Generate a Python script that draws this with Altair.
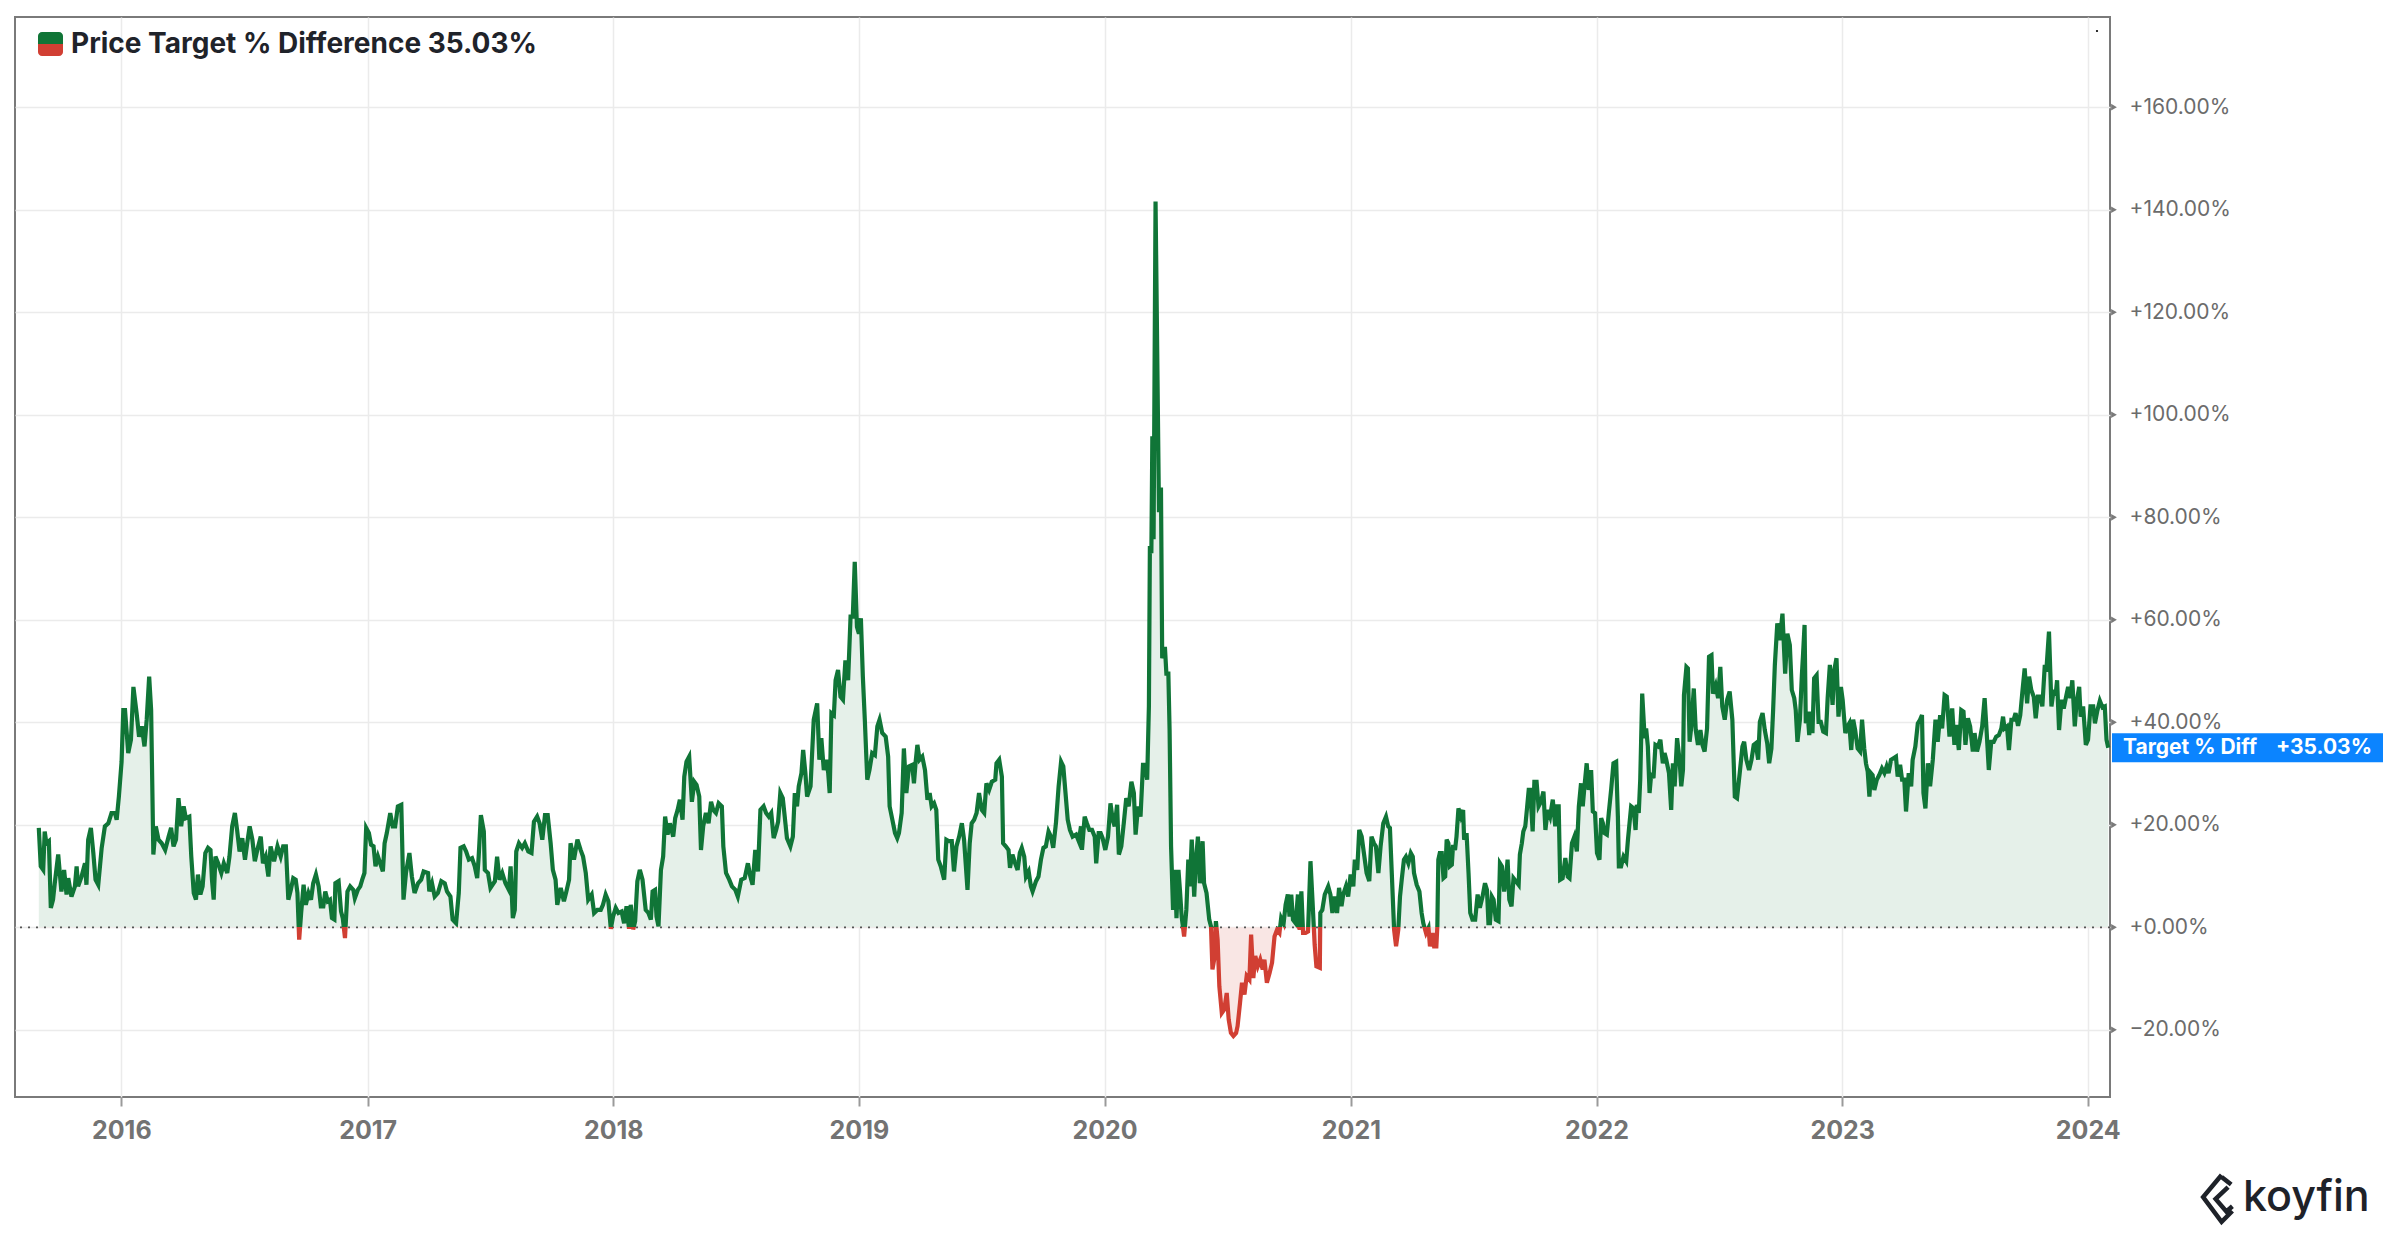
import altair as alt
import pandas as pd

# ---------------- data (decimal year, % difference) ----------------
PTD_2015_2016 = [
(2015.664,19.4),(2015.672,11.9),(2015.682,11.2),(2015.688,18.7),(2015.695,16.4),(2015.705,16.8),(2015.713,3.8),(2015.722,5.4),(2015.729,8.6),(2015.743,14.2),
(2015.756,7.0),(2015.767,11.2),(2015.777,6.4),(2015.784,9.6),(2015.797,6.0),(2015.811,8.0),(2015.818,11.9),(2015.824,8.0),(2015.838,9.9),(2015.852,12.5),
(2015.858,8.3),(2015.865,17.1),(2015.876,19.4),(2015.886,14.5),(2015.895,9.3),(2015.906,8.3),(2015.913,11.9),(2015.920,15.5),(2015.933,19.7),(2015.947,20.3),
(2015.960,22.3),(2015.974,22.3),(2015.981,21.0),(2015.990,25.5),(2016.001,32.3),(2016.008,42.4),(2016.015,42.4),(2016.028,34.0),(2016.039,36.6),(2016.049,46.9),
(2016.062,41.8),(2016.072,37.2),(2016.083,39.2),(2016.094,35.3),(2016.103,40.5),(2016.113,48.9),(2016.121,42.4),(2016.130,14.2),(2016.140,19.7),(2016.151,17.1),
(2016.164,16.4),(2016.178,15.1),(2016.192,17.7),(2016.202,19.4),(2016.212,15.8),(2016.222,17.1),(2016.232,25.2),(2016.243,19.7),(2016.253,23.6),(2016.262,21.3),
(2016.276,21.6),(2016.284,13.8),(2016.294,6.7),(2016.303,5.4),(2016.311,10.3),(2016.321,6.4),(2016.330,8.0),(2016.341,14.5),(2016.352,15.5),(2016.362,15.1),
(2016.368,9.3),(2016.375,5.4),(2016.382,13.8),(2016.393,12.5),(2016.406,10.6),(2016.416,12.5),(2016.430,10.6),(2016.439,13.8),(2016.450,19.7),(2016.461,22.3),
(2016.470,19.0),(2016.480,14.8),(2016.491,17.4),(2016.502,13.2),(2016.511,16.4),(2016.521,19.7),(2016.532,17.1),(2016.542,12.9),(2016.552,15.1),(2016.566,17.7),
(2016.575,12.5),(2016.586,13.8),(2016.597,9.9),(2016.606,15.8),(2016.620,12.9),(2016.634,15.8),(2016.647,13.8),(2016.657,15.8),(2016.668,15.8),(2016.678,5.4),
(2016.688,7.3),(2016.698,9.6),(2016.708,9.3),(2016.715,6.7),(2016.722,-2.4),(2016.730,2.8),(2016.740,8.3),(2016.749,4.4),(2016.760,6.7),(2016.770,5.4),
(2016.779,8.6),(2016.790,10.3),(2016.801,8.0),(2016.810,4.1),(2016.820,4.1),(2016.828,7.0),(2016.838,5.1),(2016.847,5.4),(2016.855,1.8),(2016.865,1.5),
(2016.869,8.6),(2016.882,9.0),(2016.892,3.1),(2016.899,1.8),(2016.908,-2.1),(2016.918,7.0),(2016.929,8.0),(2016.942,7.3),(2016.948,5.7),(2016.960,7.3),
(2016.970,8.0),(2016.978,9.3),(2016.987,10.6),(2016.994,19.4),(2017.005,18.4),(2017.014,16.1),(2017.024,15.8),(2017.032,11.9),(2017.042,13.8),(2017.051,12.5),
(2017.062,10.9),
]

PTD_2017_2018 = [
(2017.069,16.4),(2017.078,18.4),(2017.092,22.3),(2017.102,19.7),(2017.112,19.7),(2017.123,23.6),(2017.137,23.9),(2017.146,5.4),(2017.156,10.6),(2017.170,14.5),
(2017.180,9.9),(2017.191,6.7),(2017.205,8.6),(2017.218,9.3),(2017.228,10.9),(2017.246,10.6),(2017.251,7.0),(2017.262,8.6),(2017.273,6.0),(2017.286,6.7),
(2017.300,9.0),(2017.314,8.6),(2017.323,7.0),(2017.337,6.0),(2017.346,1.5),(2017.360,0.8),(2017.371,6.7),(2017.378,15.5),(2017.391,15.8),(2017.401,14.8),
(2017.412,13.2),(2017.425,13.5),(2017.436,11.9),(2017.446,9.6),(2017.452,13.8),(2017.461,21.9),(2017.473,18.7),(2017.477,11.2),(2017.490,10.6),(2017.500,7.7),
(2017.518,9.0),(2017.527,13.8),(2017.537,9.3),(2017.548,10.6),(2017.561,8.6),(2017.575,7.3),(2017.582,11.9),(2017.591,1.8),(2017.599,3.4),(2017.605,14.8),
(2017.616,16.4),(2017.629,15.5),(2017.640,16.4),(2017.654,14.8),(2017.667,14.5),(2017.677,20.6),(2017.690,21.6),(2017.700,20.3),(2017.711,17.1),(2017.722,21.9),
(2017.733,21.9),(2017.745,16.4),(2017.754,11.2),(2017.765,9.3),(2017.772,4.4),(2017.786,7.7),(2017.799,5.1),(2017.809,7.0),(2017.820,9.3),(2017.826,16.4),
(2017.840,13.2),(2017.854,17.1),(2017.867,15.1),(2017.877,13.8),(2017.888,10.6),(2017.898,5.4),(2017.912,6.4),(2017.922,2.8),(2017.935,3.4),(2017.949,3.4),
(2017.958,4.4),(2017.969,6.4),(2017.980,5.1),(2017.990,-0.3),(2017.999,2.1),(2018.010,3.8),(2018.021,2.8),(2018.034,3.1),(2018.044,0.8),(2018.054,4.1),
(2018.064,-0.3),(2018.071,4.4),(2018.081,-0.4),(2018.089,1.2),(2018.098,9.0),(2018.108,11.2),(2018.119,9.3),(2018.132,3.4),(2018.143,2.8),(2018.153,1.5),
(2018.160,7.0),(2018.170,7.3),(2018.176,2.1),(2018.184,0.2),(2018.194,11.2),(2018.203,13.8),(2018.211,21.6),(2018.221,18.1),(2018.230,20.3),(2018.244,17.7),
(2018.252,21.3),(2018.262,22.9),(2018.271,24.9),(2018.282,21.0),(2018.289,29.4),(2018.298,32.3),(2018.309,33.3),(2018.320,24.5),(2018.330,28.4),(2018.339,27.8),
(2018.350,25.5),(2018.357,15.1),(2018.366,19.7),(2018.377,22.3),(2018.388,20.3),(2018.398,24.5),(2018.407,22.9),(2018.418,22.3),(2018.429,24.2),(2018.442,23.6),
(2018.448,15.8),(2018.459,10.6),(2018.472,9.3),(2018.483,8.0),
]

PTD_2018_2019 = [
(2018.497,7.3),(2018.507,6.0),(2018.521,9.3),(2018.535,9.6),(2018.548,12.5),(2018.558,9.9),(2018.567,8.3),(2018.578,15.1),(2018.589,10.9),(2018.599,22.9),
(2018.612,23.6),(2018.622,22.3),(2018.633,21.6),(2018.643,22.3),(2018.653,17.4),(2018.663,19.0),(2018.671,20.6),(2018.680,26.2),(2018.690,25.2),(2018.698,21.6),
(2018.707,17.4),(2018.721,15.8),(2018.731,17.7),(2018.739,26.2),(2018.748,23.6),(2018.755,27.5),(2018.766,30.1),(2018.773,34.6),(2018.782,30.1),(2018.789,25.5),
(2018.803,27.5),(2018.816,40.5),(2018.830,43.7),(2018.839,32.7),(2018.847,36.9),(2018.857,30.7),(2018.867,32.7),(2018.875,30.1),(2018.881,26.2),(2018.888,41.8),
(2018.898,41.4),(2018.905,48.2),(2018.915,50.2),(2018.925,45.0),(2018.935,44.4),(2018.945,52.1),(2018.956,48.2),(2018.966,60.6),(2018.975,60.6),(2018.983,71.3),
(2018.992,58.6),(2019.000,57.3),(2019.008,60.3),(2019.016,48.9),(2019.024,40.5),(2019.034,28.8),(2019.043,30.7),(2019.054,34.0),(2019.065,33.6),(2019.075,39.2),
(2019.084,40.5),(2019.095,37.9),(2019.109,37.2),(2019.119,33.3),(2019.125,23.6),(2019.136,21.0),(2019.147,18.4),(2019.156,17.4),(2019.163,18.4),(2019.174,22.3),
(2019.183,34.9),(2019.193,26.2),(2019.204,31.4),(2019.217,31.7),(2019.224,28.1),(2019.231,32.3),(2019.238,35.6),(2019.247,32.7),(2019.258,33.3),(2019.269,30.7),
(2019.279,24.9),(2019.288,26.2),(2019.296,23.6),(2019.306,24.2),(2019.315,22.9),(2019.323,13.2),(2019.333,11.9),(2019.347,9.3),(2019.356,17.1),(2019.367,16.8),
(2019.378,16.8),(2019.387,10.9),(2019.397,15.8),(2019.408,17.7),(2019.419,20.3),(2019.428,17.1),(2019.442,7.3),(2019.451,16.4),(2019.459,20.3),(2019.469,21.0),
(2019.479,22.3),(2019.489,26.2),(2019.500,22.9),(2019.510,22.3),(2019.519,28.1),(2019.530,26.8),(2019.541,28.4),(2019.555,28.8),(2019.560,32.0),(2019.571,32.7),
(2019.582,29.4),(2019.587,16.4),(2019.598,15.8),(2019.609,15.1),(2019.615,11.6),(2019.625,14.2),(2019.636,12.5),(2019.646,11.2),(2019.655,14.5),(2019.663,15.5),
(2019.673,13.8),(2019.680,9.9),(2019.691,10.9),(2019.700,8.0),(2019.707,7.0),(2019.721,9.0),(2019.731,9.9),(2019.741,13.2),(2019.751,15.5),(2019.761,15.8),
(2019.772,18.7),(2019.782,17.7),(2019.791,15.5),(2019.802,20.3),(2019.813,27.5),(2019.823,32.3),(2019.832,31.4),(2019.840,26.8),(2019.850,21.0),(2019.859,19.0),
(2019.870,17.7),(2019.884,18.1),(2019.895,16.8),(2019.904,19.7),
]

PTD_2020_2021 = [
(2019.908,15.1),(2019.919,21.6),(2019.928,20.3),(2019.938,19.0),(2019.949,19.0),(2019.960,17.7),(2019.966,12.5),(2019.976,18.4),(2019.984,18.4),(2019.992,17.4),
(2020.003,15.1),(2020.014,17.7),(2020.024,24.2),(2020.033,21.0),(2020.041,19.7),(2020.051,23.9),(2020.058,14.2),(2020.068,15.8),(2020.078,20.3),(2020.088,25.2),
(2020.098,23.6),(2020.109,28.4),(2020.119,26.2),(2020.126,18.1),(2020.136,23.6),(2020.146,21.6),(2020.156,31.7),(2020.164,31.7),(2020.173,28.8),(2020.180,43.1),
(2020.184,74.4),(2020.190,73.0),(2020.194,95.8),(2020.199,75.7),(2020.207,141.6),(2020.221,81.0),(2020.229,85.8),(2020.234,52.5),(2020.245,54.7),(2020.251,49.5),
(2020.259,49.5),(2020.264,38.5),(2020.270,15.8),(2020.278,3.4),(2020.286,11.2),(2020.292,1.8),(2020.300,11.2),(2020.306,7.3),(2020.313,2.1),(2020.323,-1.8),
(2020.332,3.4),(2020.340,13.2),(2020.346,8.0),(2020.354,17.1),(2020.364,6.0),(2020.370,12.5),(2020.379,17.7),(2020.387,8.6),(2020.398,16.8),(2020.404,8.6),
(2020.414,6.7),(2020.425,1.5),(2020.432,0.2),(2020.438,-8.2),(2020.445,-6.3),(2020.452,1.2),(2020.459,-2.4),(2020.466,-11.5),(2020.476,-16.7),(2020.486,-16.0),
(2020.496,-12.8),(2020.504,-18.0),(2020.513,-20.6),(2020.523,-21.2),(2020.534,-20.6),(2020.540,-19.3),(2020.550,-14.7),(2020.558,-10.8),(2020.568,-13.1),(2020.577,-9.5),
(2020.588,-10.2),(2020.595,-1.4),(2020.604,-9.9),(2020.612,-5.6),(2020.622,-7.6),(2020.632,-6.3),(2020.642,-8.2),(2020.649,-6.3),(2020.659,-10.8),(2020.670,-8.9),
(2020.680,-6.9),(2020.690,-1.8),(2020.700,-0.5),(2020.710,-1.1),(2020.717,1.8),(2020.727,0.8),(2020.735,4.4),(2020.744,6.4),(2020.751,2.1),(2020.758,6.4),
(2020.765,1.5),(2020.776,0.8),(2020.785,6.4),(2020.792,-0.5),(2020.799,7.0),(2020.806,-1.1),(2020.816,-1.1),(2020.826,-0.8),(2020.836,12.9),(2020.844,5.4),
(2020.853,-3.4),(2020.860,-7.6),(2020.874,-7.9),(2020.876,2.8),(2020.884,3.4),(2020.894,6.4),(2020.908,8.0),(2020.917,6.4),(2020.925,2.8),(2020.935,6.0),
(2020.944,2.8),(2020.952,7.7),(2020.962,4.1),(2020.969,6.4),(2020.980,8.0),(2020.989,6.0),(2020.999,10.3),(2021.010,8.0),(2021.016,13.2),(2021.026,11.2),
(2021.034,19.0),(2021.044,17.7),(2021.053,14.5),(2021.064,10.6),(2021.075,9.0),(2021.084,17.7),(2021.094,16.4),(2021.102,15.8),(2021.112,10.6),(2021.121,15.8),
(2021.132,20.3),(2021.143,21.6),(2021.152,19.7),(2021.159,19.4),(2021.166,11.2),(2021.176,-0.5),(2021.184,-3.7),(2021.193,-0.5),(2021.200,6.0),(2021.207,9.3),
(2021.216,13.2),(2021.224,13.8),(2021.234,12.5),(2021.244,14.5),(2021.252,13.8),(2021.257,10.6),(2021.268,8.3),(2021.279,7.0),(2021.288,2.8),(2021.295,0.8),
(2021.306,-1.1),(2021.316,-0.1),(2021.322,-3.7),(2021.333,-1.1),
]

PTD_2021_2022 = [
(2021.339,-3.7),(2021.348,-3.7),(2021.352,0.2),(2021.356,13.2),(2021.362,14.5),(2021.370,14.5),(2021.377,9.6),(2021.384,9.9),(2021.390,17.1),(2021.397,16.4),
(2021.403,11.9),(2021.411,12.2),(2021.416,16.1),(2021.424,15.1),(2021.430,17.7),(2021.438,23.2),(2021.448,21.6),(2021.457,22.9),(2021.461,17.1),(2021.471,18.4),
(2021.479,10.6),(2021.486,2.8),(2021.495,1.5),(2021.506,1.5),(2021.516,6.4),(2021.525,3.8),(2021.536,6.0),(2021.546,8.6),(2021.554,7.3),(2021.560,0.8),
(2021.566,0.8),(2021.574,6.0),(2021.581,5.4),(2021.590,1.5),(2021.601,1.2),(2021.607,12.5),(2021.615,11.9),(2021.624,7.0),(2021.631,9.3),(2021.638,13.2),
(2021.645,5.4),(2021.654,4.1),(2021.662,9.6),(2021.672,9.0),(2021.683,8.3),(2021.688,14.2),(2021.696,16.4),(2021.702,18.7),(2021.710,19.7),(2021.717,23.2),
(2021.724,26.8),(2021.730,26.8),(2021.740,18.7),(2021.747,28.4),(2021.756,28.4),(2021.764,23.6),(2021.774,24.5),(2021.784,26.5),(2021.792,19.0),(2021.801,22.9),
(2021.811,21.6),(2021.822,24.9),(2021.832,19.7),(2021.838,23.6),(2021.846,23.6),(2021.852,9.3),(2021.862,9.6),(2021.873,13.5),(2021.883,9.9),(2021.890,9.6),
(2021.900,16.4),(2021.910,17.7),(2021.920,14.8),(2021.928,23.6),(2021.937,28.1),(2021.944,23.6),(2021.951,27.5),(2021.960,32.0),(2021.968,26.8),(2021.978,30.7),
(2021.985,22.6),(2021.994,22.3),(2022.002,14.5),(2022.012,13.2),(2022.019,21.3),(2022.026,20.3),(2022.032,18.4),(2022.042,18.1),(2022.050,22.3),(2022.060,27.1),
(2022.069,32.0),(2022.080,32.3),(2022.087,21.6),(2022.091,11.9),(2022.100,11.9),(2022.110,13.8),(2022.121,12.9),(2022.128,17.1),(2022.141,23.6),(2022.151,23.2),
(2022.159,19.0),(2022.164,23.9),(2022.172,22.3),(2022.178,28.8),(2022.186,45.6),(2022.196,36.9),(2022.202,38.8),(2022.209,35.3),(2022.216,26.2),(2022.223,30.1),
(2022.232,29.1),(2022.240,35.6),(2022.250,35.3),(2022.260,36.6),(2022.270,32.0),(2022.277,34.0),(2022.284,32.7),(2022.295,30.1),(2022.304,22.9),(2022.311,32.0),
(2022.318,27.5),(2022.328,36.9),(2022.338,32.7),(2022.345,27.5),(2022.352,30.7),(2022.356,45.3),(2022.366,50.8),(2022.372,50.5),(2022.379,36.2),(2022.386,39.2),
(2022.396,46.6),(2022.404,38.5),(2022.413,35.6),(2022.423,38.5),(2022.431,35.6),(2022.440,34.3),(2022.450,38.8),(2022.458,52.8),(2022.468,53.1),(2022.474,45.6),
(2022.485,47.2),(2022.495,44.7),(2022.504,50.8),(2022.512,43.1),(2022.522,40.5),(2022.532,44.4),(2022.542,46.0),(2022.553,40.5),(2022.563,25.5),(2022.572,25.2),
(2022.583,30.1),(2022.594,35.3),(2022.601,36.2),(2022.610,32.7),(2022.621,30.7),(2022.631,32.7),(2022.640,35.6),(2022.648,35.9),(2022.658,32.7),(2022.665,40.1),
(2022.676,41.8),(2022.685,38.5),(2022.695,35.9),(2022.703,32.0),(2022.712,34.9),(2022.719,42.4),(2022.726,51.2),(2022.736,59.3),(2022.746,56.0),(2022.757,61.2),
]

PTD_2022_2024 = [
(2022.768,49.5),(2022.777,57.3),(2022.787,55.1),(2022.795,46.3),(2022.805,44.7),(2022.811,42.4),(2022.818,36.2),(2022.828,40.5),(2022.836,49.2),(2022.841,53.4),
(2022.847,59.0),(2022.852,39.8),(2022.859,42.1),(2022.866,37.5),(2022.873,42.1),(2022.879,37.9),(2022.886,48.6),(2022.896,49.2),(2022.904,40.1),(2022.913,40.1),
(2022.923,38.2),(2022.934,37.9),(2022.941,44.7),(2022.950,51.2),(2022.961,43.4),(2022.968,50.2),(2022.977,52.5),(2022.985,41.1),(2022.995,46.9),(2023.002,44.4),
(2023.013,37.9),(2023.022,39.2),(2023.029,39.8),(2023.037,34.6),(2023.045,40.5),(2023.053,38.5),(2023.063,34.9),(2023.073,34.3),(2023.081,40.5),(2023.090,34.9),
(2023.097,32.0),(2023.104,30.4),(2023.111,25.5),(2023.117,30.1),(2023.124,29.7),(2023.131,26.8),(2023.141,28.8),(2023.151,29.7),(2023.162,31.0),(2023.172,30.1),
(2023.181,31.4),(2023.189,30.1),(2023.199,32.7),(2023.209,33.0),(2023.219,33.3),(2023.226,29.4),(2023.236,31.7),(2023.244,28.8),(2023.253,28.8),(2023.260,22.6),
(2023.271,30.1),(2023.281,27.5),(2023.287,32.7),(2023.298,35.3),(2023.308,39.8),(2023.317,40.5),(2023.325,41.4),(2023.331,26.2),(2023.339,23.2),(2023.349,32.0),
(2023.358,27.5),(2023.369,32.7),(2023.380,40.5),(2023.389,36.2),(2023.399,41.4),(2023.407,38.8),(2023.417,45.3),(2023.426,45.0),(2023.437,37.2),(2023.448,42.7),
(2023.457,35.6),(2023.464,39.5),(2023.475,34.6),(2023.485,42.4),(2023.494,42.1),(2023.502,35.6),(2023.512,40.8),(2023.521,39.2),(2023.532,34.3),(2023.539,37.9),
(2023.549,34.3),(2023.559,36.2),(2023.570,39.2),(2023.580,44.7),(2023.587,39.2),(2023.597,30.7),(2023.607,36.2),(2023.617,36.2),(2023.627,37.2),(2023.638,37.5),
(2023.648,38.8),(2023.655,41.1),(2023.661,38.8),(2023.671,39.2),(2023.679,34.6),(2023.689,40.5),(2023.698,40.5),(2023.706,41.8),(2023.716,39.3),(2023.725,41.4),
(2023.733,45.6),(2023.743,50.5),(2023.753,43.7),(2023.761,48.9),(2023.770,46.3),(2023.780,45.0),(2023.788,40.8),(2023.797,45.0),(2023.807,45.0),(2023.815,43.1),
(2023.825,51.2),(2023.831,49.9),(2023.842,57.7),(2023.852,43.1),(2023.861,46.3),(2023.869,45.3),(2023.875,48.2),(2023.883,38.5),(2023.893,44.4),(2023.902,42.7),
(2023.913,45.3),(2023.920,46.9),(2023.929,44.7),(2023.937,48.2),(2023.947,39.2),(2023.954,43.7),(2023.965,46.9),(2023.971,41.1),(2023.981,43.1),(2023.992,35.6),
(2024.001,36.6),(2024.011,43.1),(2024.022,43.1),(2024.029,39.8),(2024.038,42.1),(2024.049,44.2),(2024.060,42.9),(2024.069,43.1),(2024.076,36.6),(2024.083,35.03),
]

Y_TICKS = [-20, 0, 20, 40, 60, 80, 100, 120, 140, 160]
X_YEARS = [2016, 2017, 2018, 2019, 2020, 2021, 2022, 2023, 2024]
LEGEND_TITLE = "Price Target % Difference"
BADGE_NAME = "Target % Diff"
BRAND = "koyfin"

# ---------------- styling ----------------
FONT = "Inter"
GREEN = "#107537"
RED = "#d13f33"
GREEN_FILL = "#e5f0e9"
RED_FILL = "#f9e6e4"
BLUE = "#0b84ff"
GRID = "#ebebeb"
W, H = 2095, 1080


def dec_to_iso(y):
    yr = int(y)
    start = pd.Timestamp(yr, 1, 1)
    end = pd.Timestamp(yr + 1, 1, 1)
    return (start + (end - start) * (y - yr)).strftime("%Y-%m-%dT%H:%M:%S")


rows = []
for seg in [PTD_2015_2016, PTD_2017_2018, PTD_2018_2019, PTD_2020_2021, PTD_2021_2022, PTD_2022_2024]:
    for t, v in seg:
        rows.append({"date": dec_to_iso(t), "value": v})
df = pd.DataFrame(rows)

vmax = df["value"].max()
vmin = df["value"].min()
f = float(vmax / (vmax - vmin))
last = float(df["value"].iloc[-1])
last_txt = ("+" if last >= 0 else "") + f"{last:.2f}%"


def grad(c_top, c_bot):
    return alt.Gradient(
        gradient="linear",
        stops=[alt.GradientStop(color=c_top, offset=0), alt.GradientStop(color=c_top, offset=f),
               alt.GradientStop(color=c_bot, offset=f), alt.GradientStop(color=c_bot, offset=1)],
        x1=0, x2=0, y1=0, y2=1,
    )


XSCALE = alt.Scale(domain=[alt.DateTime(year=2015, month=7, date=27), alt.DateTime(year=2024, month=2, date=3)])
YSCALE = alt.Scale(domain=[-33.1, 177.6], nice=False, zero=False)

XAXIS = alt.Axis(
    values=[alt.DateTime(year=y, month=1, date=1) for y in X_YEARS], format="%Y", title=None,
    grid=True, gridColor=GRID, gridWidth=1.5, domain=False,
    ticks=True, tickSize=9, tickColor="#9a9a9a", tickWidth=2,
    labelFont=FONT, labelFontSize=25, labelFontWeight="bold", labelColor="#737373", labelPadding=12,
)
YAXIS = alt.Axis(
    orient="right", values=Y_TICKS, title=None, grid=True, gridColor=GRID, gridWidth=1.5,
    domain=False, ticks=False, labelFont=FONT, labelFontSize=21, labelColor="#6b6b6b", labelPadding=19,
    labelExpr="(datum.value >= 0 ? '+' : '') + format(datum.value, '.2f') + '%'",
)

base = alt.Chart(df)
X = alt.X("date:T", scale=XSCALE, axis=XAXIS)
Y = alt.Y("value:Q", scale=YSCALE, axis=YAXIS)

area = base.mark_area(fill=grad(GREEN_FILL, RED_FILL), interpolate="linear").encode(
    x=X, y=Y, y2=alt.Y2Datum(0)
)
line = base.mark_line(stroke=grad(GREEN, RED), strokeWidth=4.2, interpolate="linear").encode(x=X, y=Y)

zero = alt.Chart(pd.DataFrame({"z": [0]})).mark_rule(
    color="#555555", strokeWidth=1.6, strokeDash=[2, 6]
).encode(y=alt.Y("z:Q", scale=YSCALE, axis=YAXIS))

tri = alt.Chart(pd.DataFrame({"value": Y_TICKS})).mark_point(
    shape="triangle-right", filled=True, size=45, color="#7a7a7a", opacity=1
).encode(y=alt.Y("value:Q", scale=YSCALE, axis=YAXIS), x=alt.value(W + 4))

one = alt.Chart(pd.DataFrame({"value": [last]}))
badge = one.mark_rect(color=BLUE, yOffset=-14.5, y2Offset=14.5).encode(
    x=alt.value(W + 2), x2=alt.value(W + 273),
    y=alt.Y("value:Q", scale=YSCALE, axis=YAXIS), y2="value:Q",
)
badge_name = one.mark_text(align="left", baseline="middle", color="white", font=FONT,
                           fontSize=21, fontWeight="bold").encode(
    x=alt.value(W + 13), y=alt.Y("value:Q", scale=YSCALE, axis=YAXIS), text=alt.value(BADGE_NAME))
badge_val = one.mark_text(align="right", baseline="middle", color="white", font=FONT,
                          fontSize=21, fontWeight="bold").encode(
    x=alt.value(W + 262), y=alt.Y("value:Q", scale=YSCALE, axis=YAXIS), text=alt.value(last_txt))

# legend (top-left)
dummy = alt.Chart(pd.DataFrame({"d": [0]}))
leg_top = dummy.mark_rect(color=GREEN, cornerRadiusTopLeft=4, cornerRadiusTopRight=4).encode(
    x=alt.value(23), x2=alt.value(48), y=alt.value(15), y2=alt.value(27))
leg_bot = dummy.mark_rect(color=RED, cornerRadiusBottomLeft=4, cornerRadiusBottomRight=4).encode(
    x=alt.value(23), x2=alt.value(48), y=alt.value(27), y2=alt.value(39))
leg_txt = dummy.mark_text(align="left", baseline="middle", font=FONT, fontSize=28,
                          fontWeight="bold", color="#1f232a").encode(
    x=alt.value(56), y=alt.value(28), text=alt.value(f"{LEGEND_TITLE} {last:.2f}%"))
corner_dot = dummy.mark_point(shape="circle", filled=True, size=5, color="#000000", opacity=1).encode(
    x=alt.value(W - 13), y=alt.value(14))

# brand
logo = dummy.mark_point(
    shape="M 0.15 -1 L -0.62 -0.08 L 0.15 0.95 L 0.6 0.5 M 0.55 -0.6 L 0.15 -0.92 M 0.42 -0.5 L -0.1 0 L 0.35 0.52 L 0.6 0.3",
    filled=False, size=2300, strokeWidth=4.5, color="#1e2229", opacity=1,
).encode(x=alt.value(W + 108), y=alt.value(H + 102))
brand = dummy.mark_text(align="left", baseline="alphabetic", font=FONT, fontSize=43,
                        fontWeight=500, color="#1e2229").encode(
    x=alt.value(W + 133), y=alt.value(H + 114), text=alt.value(BRAND))

chart = alt.layer(
    area, zero, line, tri, badge, badge_name, badge_val, leg_top, leg_bot, leg_txt, corner_dot, logo, brand
).properties(
    width=W, height=H,
    autosize=alt.AutoSizeParams(type="none"),
    padding={"left": 7, "top": 9, "right": 282, "bottom": 135},
    background="white",
).configure_view(stroke="#7a7a7a", strokeWidth=2)

chart.save("out.html", embed_options={"renderer": "svg", "actions": False})
